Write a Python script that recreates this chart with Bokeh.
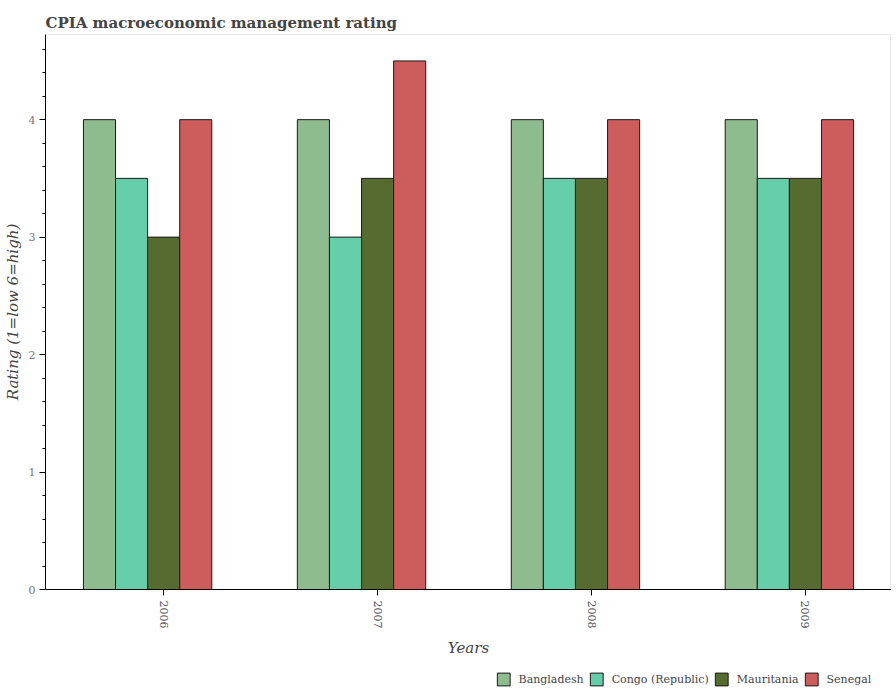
import numpy as np
from bokeh.plotting import figure
from bokeh.layouts import column
from bokeh.models import FixedTicker, Range1d, Legend, LegendItem, ColumnDataSource
from bokeh.embed import file_html
from bokeh.resources import INLINE

years = [2006, 2007, 2008, 2009]
countries = ["Bangladesh", "Congo (Republic)", "Mauritania", "Senegal"]
bangladesh = [4.0, 4.0, 4.0, 4.0]
congo = [3.5, 3.0, 3.5, 3.5]
mauritania = [3.0, 3.5, 3.5, 3.5]
senegal = [4.0, 4.5, 4.0, 4.0]
colors = ["#8fbc8f", "#66cdaa", "#556b2f", "#cd5c5c"]
series = [bangladesh, congo, mauritania, senegal]

FONT = "DejaVu Serif"
bar_w = 0.15
offsets = [-2 * bar_w, -bar_w, 0.0, bar_w]

p = figure(frame_width=846, frame_height=555, output_backend="svg", toolbar_location=None,
           x_range=Range1d(2005.4477, 2009.4023), y_range=Range1d(0, 4.725),
           min_border_left=38, min_border_right=0, min_border_top=34, min_border_bottom=70,
           title="CPIA macroeconomic management rating")

p.title.text_font = FONT
p.title.text_font_size = "15px"
p.title.text_font_style = "bold"
p.title.text_color = "#444444"
p.title.standoff = 6
p.title.offset = 0

for vals, off, col in zip(series, offsets, colors):
    src = ColumnDataSource(dict(x=[y + off for y in years], top=vals))
    p.vbar(x="x", top="top", width=bar_w, source=src, fill_color=col,
           line_color="#1a1a1a", line_width=1)

p.xgrid.visible = False
p.ygrid.visible = False
p.outline_line_color = "#e8e8e8"

p.xaxis.ticker = FixedTicker(ticks=years)
p.xaxis.major_label_orientation = -np.pi / 2
p.xaxis.minor_tick_line_color = None
p.xaxis.major_tick_in = 0
p.xaxis.major_tick_out = 6
p.xaxis.axis_label = "Years"
p.xaxis.axis_label_text_font_style = "italic"
p.xaxis.axis_label_text_font = FONT
p.xaxis.axis_label_text_font_size = "15px"
p.xaxis.axis_label_text_color = "#444444"
p.xaxis.axis_label_standoff = 8
p.xaxis.major_label_text_font = FONT
p.xaxis.major_label_text_font_size = "11px"
p.xaxis.major_label_text_color = "#555555"
p.xaxis.major_label_standoff = 5
p.xaxis.axis_line_color = "black"
p.xaxis.major_tick_line_color = "black"

p.yaxis.ticker = FixedTicker(ticks=[0, 1, 2, 3, 4],
                             minor_ticks=[round(0.2 * i, 1) for i in range(24)])
p.yaxis.major_tick_in = 0
p.yaxis.major_tick_out = 6
p.yaxis.minor_tick_in = 0
p.yaxis.minor_tick_out = 3
p.yaxis.axis_label = "Rating (1=low 6=high)"
p.yaxis.axis_label_text_font_style = "italic"
p.yaxis.axis_label_text_font = FONT
p.yaxis.axis_label_text_font_size = "15px"
p.yaxis.axis_label_text_color = "#444444"
p.yaxis.axis_label_standoff = 4
p.yaxis.major_label_text_font = FONT
p.yaxis.major_label_text_font_size = "11px"
p.yaxis.major_label_text_color = "#777777"
p.yaxis.major_label_standoff = 4
p.yaxis.axis_line_color = "black"
p.yaxis.major_tick_line_color = "black"
p.yaxis.minor_tick_line_color = "black"

# Legend strip below the chart; its renderers are hidden, only the legend shows
lg = figure(frame_width=846, frame_height=38, output_backend="svg", toolbar_location=None,
            x_range=Range1d(2005.4477, 2009.4023), y_range=Range1d(0, 4.725),
            min_border_left=38, min_border_right=0, min_border_top=0, min_border_bottom=0,
            x_axis_type=None, y_axis_type=None)
lg.xgrid.visible = False
lg.ygrid.visible = False
lg.outline_line_color = None

leg_renderers = []
for vals, off, col in zip(series, offsets, colors):
    src = ColumnDataSource(dict(x=[y + off for y in years], top=vals))
    r = lg.vbar(x="x", top="top", width=bar_w, source=src, fill_color=col,
                line_color="#1a1a1a", line_width=1)
    r.visible = False
    leg_renderers.append(r)

legend = Legend(items=[LegendItem(label=c, renderers=[r]) for c, r in zip(countries, leg_renderers)],
                orientation="horizontal", location="right", click_policy="none",
                glyph_width=16, glyph_height=16, label_standoff=7, spacing=5,
                padding=4, margin=0, border_line_color=None, background_fill_alpha=0,
                label_text_font=FONT, label_text_font_size="11px",
                label_text_color="#444444", label_height=16)
lg.add_layout(legend, "center")

layout = column(p, lg, spacing=0)
open("out.html", "w").write(file_html(layout, INLINE))
